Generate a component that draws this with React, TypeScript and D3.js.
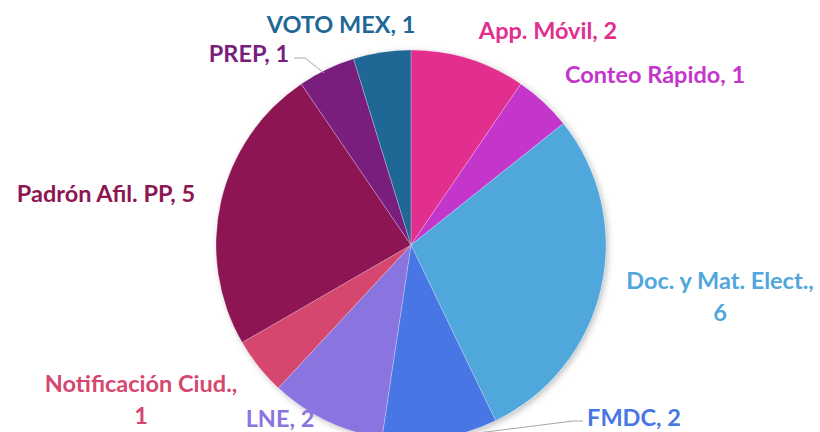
import React, { useEffect, useRef } from "react";
import * as d3 from "d3";

// values read clockwise from 12 o'clock
const categories = [
  "App. Móvil",
  "Conteo Rápido",
  "Doc. y Mat. Elect.",
  "FMDC",
  "LNE",
  "Notificación Ciud.",
  "Padrón Afil. PP",
  "PREP",
  "VOTO MEX",
];
const values = [2, 1, 6, 2, 2, 1, 5, 1, 1];
const colors = [
  "#E22F8E",
  "#C436CB",
  "#4FA7DC",
  "#4876E4",
  "#8A74E0",
  "#D5476F",
  "#8E1553",
  "#7A1E7D",
  "#1F6896",
];

// label placement (text lines, x, first baseline) — layout only
const labelLayout = [
  { lines: ["App. Móvil, 2"], x: 548, y: 39 },
  { lines: ["Conteo Rápido, 1"], x: 655, y: 83 },
  { lines: ["Doc. y Mat. Elect.,", "6"], x: 720, y: 289 },
  { lines: ["FMDC, 2"], x: 634, y: 426 },
  { lines: ["LNE, 2"], x: 280, y: 427 },
  { lines: ["Notificación Ciud.,", "1"], x: 141, y: 392 },
  { lines: ["Padrón Afil. PP, 5"], x: 106, y: 202 },
  { lines: ["PREP, 1"], x: 249, y: 62 },
  { lines: ["VOTO MEX, 1"], x: 341, y: 33 },
];

const App = () => {
  const ref = useRef<SVGSVGElement>(null);

  useEffect(() => {
    const width = 820;
    const height = 432;
    const cx = 411;
    const cy = 245;
    const r = 195;

    const svg = d3.select(ref.current);
    svg.selectAll("*").remove();

    const defs = svg.append("defs");
    const f = defs
      .append("filter")
      .attr("id", "shadow")
      .attr("x", "-20%")
      .attr("y", "-20%")
      .attr("width", "140%")
      .attr("height", "140%");
    f.append("feDropShadow")
      .attr("dx", 2)
      .attr("dy", 2)
      .attr("stdDeviation", 3)
      .attr("flood-color", "#000")
      .attr("flood-opacity", 0.25);

    const data = categories.map((c, i) => ({ name: c, value: values[i], color: colors[i], i }));

    const pie = d3
      .pie<any>()
      .value((d) => d.value)
      .sort(null);
    const arcs = pie(data);

    const arc = d3.arc<any>().innerRadius(0).outerRadius(r);

    const g = svg.append("g").attr("transform", `translate(${cx},${cy})`);

    g.append("circle").attr("r", r).attr("fill", "#fff").attr("filter", "url(#shadow)");

    g.selectAll("path.slice")
      .data(arcs)
      .join("path")
      .attr("class", "slice")
      .attr("d", arc)
      .attr("fill", (d) => d.data.color)
      .attr("stroke", "#fff")
      .attr("stroke-width", 0.4)
      .attr("stroke-opacity", 0.6);

    // leader lines for PREP and FMDC
    const edge = (a: any, rr: number) => {
      const m = (a.startAngle + a.endAngle) / 2;
      return [cx + Math.sin(m) * rr, cy - Math.cos(m) * rr];
    };
    const prep = arcs[7];
    const pe = edge(prep, r);
    svg
      .append("polyline")
      .attr("points", `${pe[0] - 2},${pe[1] + 4} ${305},${58} ${294},${58}`)
      .attr("fill", "none")
      .attr("stroke", "#A6A6A6")
      .attr("stroke-width", 1);

    const fm = arcs[3];
    const fe = edge(fm, r);
    svg
      .append("polyline")
      .attr("points", `${fe[0]},${fe[1]} ${573},${421} ${583},${421}`)
      .attr("fill", "none")
      .attr("stroke", "#A6A6A6")
      .attr("stroke-width", 1);

    const lab = svg
      .selectAll("text.lab")
      .data(labelLayout)
      .join("text")
      .attr("class", "lab")
      .attr("text-anchor", "middle")
      .attr("font-family", "Lato, 'Open Sans', sans-serif")
      .attr("font-weight", 700)
      .attr("font-size", 23.5)
      .attr("fill", (d, i) => colors[i]);
    lab
      .selectAll("tspan")
      .data((d) => d.lines.map((l, k) => ({ l, k, x: d.x, y: d.y })))
      .join("tspan")
      .attr("x", (t) => t.x)
      .attr("y", (t) => t.y + t.k * 32)
      .text((t) => t.l);

    svg.attr("width", width).attr("height", height);
  }, []);

  return (
    <svg
      ref={ref}
      width={820}
      height={432}
      style={{ position: "absolute", left: 0, top: 0, background: "#fff" }}
    />
  );
};

export default App;
